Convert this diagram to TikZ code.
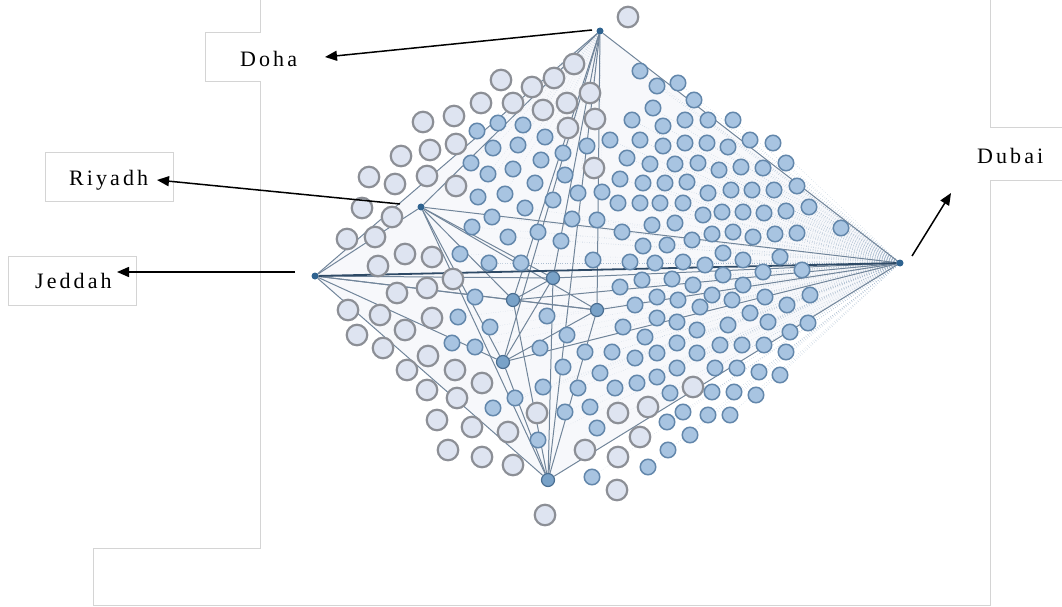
\documentclass[tikz,border=0pt]{standalone}
\usepackage{fontspec}
\newfontfamily\lblfont[LetterSpace=14]{Liberation Serif}
\usetikzlibrary{arrows.meta}
\pgfdeclarelayer{bg}
\pgfsetlayers{bg,main}
\definecolor{framecol}{HTML}{D4D4D4}
\definecolor{lightfill}{HTML}{DEE4F1}
\definecolor{lightdraw}{HTML}{8C8F96}
\definecolor{bluefill}{HTML}{A8C4E1}
\definecolor{bluedraw}{HTML}{6387AB}
\definecolor{hubfill}{HTML}{2F6390}
\definecolor{midfill}{HTML}{79A2C8}
\definecolor{middraw}{HTML}{4A6E91}
\definecolor{edgecol}{HTML}{71859A}
\definecolor{darkedge}{HTML}{2E4A66}
\definecolor{faintcol}{HTML}{9FB4CA}
\definecolor{wash}{HTML}{F7F8FB}
\begin{document}
\begin{tikzpicture}[x=1pt,y=-1pt,
 framel/.style={draw=framecol,line width=1pt},
 outer/.style={circle,draw=lightdraw,fill=lightfill,line width=2.2pt,minimum size=20.5pt,inner sep=0pt},
 inner/.style={circle,draw=bluedraw,fill=bluefill,line width=1.5pt,minimum size=15.5pt,inner sep=0pt},
 hub/.style={circle,fill=hubfill,minimum size=7pt,inner sep=0pt},
 midhub/.style={circle,draw=middraw,fill=midfill,line width=1.2pt,minimum size=13pt,inner sep=0pt},
 link/.style={draw=edgecol,line width=1pt},
 strong/.style={draw=darkedge,line width=1.8pt},
 faint/.style={draw=faintcol,line width=0.4pt,dotted},
 city/.style={font=\lblfont\fontsize{22}{25}\selectfont,anchor=base west,inner sep=0pt},
 arr/.style={draw=black,line width=1.5pt,-{Triangle[length=12pt,width=10pt]}}
]
\useasboundingbox (0,0) rectangle (1062,607);

% frame lines
\draw[framel] (260,0) -- (260,33) -- (205,33) -- (205,82) -- (260,82) -- (260,548) -- (93,548) -- (93,605) -- (990,605) -- (990,180) -- (1062,180);
\draw[framel] (990,0) -- (990,128) -- (1062,128);
\draw[framel] (45,152) rectangle (173,201);
\draw[framel] (8,256) rectangle (136,305);

% labels
\node[city] (dohalbl) at (240,67) {Doha};
\node[city] (riyadhlbl) at (69,185) {Riyadh};
\node[city] (jeddahlbl) at (35,288) {Jeddah};
\node[city] (dubailbl) at (977,163) {Dubai};

% hubs
\node[hub] (doha) at (600,31) {};
\node[hub] (riyadh) at (421,207) {};
\node[hub] (jeddah) at (315,276) {};
\node[hub] (dubai) at (900,263) {};
\node[midhub] (hA) at (513,300) {};
\node[midhub] (hB) at (553,278) {};
\node[midhub] (hC) at (597,310) {};
\node[midhub] (hD) at (503,362) {};
\node[midhub] (hE) at (548,480) {};

% outer ring (light)
\foreach \p [count=\i] in {(628,17),(574,64),(554,78),(532,87),(590,93),(567,103),(543,110),(595,119),(568,128),(594,168),(501,80),(481,103),(513,103),(454,116),(423,122),(456,144),(430,150),(401,156),(427,176),(369,177),(395,184),(456,186),(362,208),(392,217),(347,239),(375,237),(405,254),(432,257),(378,266),(453,279),(397,293),(427,288),(348,310),(380,315),(432,318),(357,335),(405,330),(383,348),(428,356),(407,370),(455,370),(482,383),(427,390),(457,398),(537,413),(618,413),(648,407),(693,387),(437,420),(472,427),(508,432),(640,437),(448,450),(482,457),(513,465),(585,450),(618,457),(617,490),(545,515)}
  \node[outer] (o\i) at \p {};

% top-left blue group
\foreach \p [count=\i] in {(477,131),(498,123),(523,125),(493,148),(518,145),(471,163),(488,174),(513,169),(478,197),(505,194),(545,137),(587,146),(563,153),(541,160),(565,175),(535,183),(602,192),(578,193),(553,200)}
  \node[inner] (bt\i) at \p {};

% right blue group
\foreach \p [count=\i] in {(640,71),(657,86),(678,83),(694,100),(653,108),(632,120),(663,126),(685,120),(708,120),(733,120),
(610,140),(640,140),(663,146),(685,143),(707,143),(728,147),(750,140),(773,143),
(627,158),(650,164),(675,164),(698,163),(719,170),(741,167),(763,168),(786,163),
(620,179),(643,183),(665,183),(687,182),(708,193),(731,190),(752,190),(774,190),(797,186),
(618,203),(640,203),(660,203),(683,203),(703,215),(722,212),(743,212),(764,213),(786,211),(809,207),
(712,234),(733,232),(753,237),(775,234),(797,233),(841,228),(723,253),(743,260),(780,257),(763,272),(802,270),
(723,275),(743,285),(765,297),(787,305),(810,295),(732,300),(712,295),(750,313),(768,322),(790,332),(808,323),(728,325),
(720,345),(742,345),(764,345),(786,352),(715,368),(737,368),(759,372),(780,375),(712,392),(734,392),(756,395),(708,415),(730,415)}
  \node[inner] (br\i) at \p {};

% centre blue group
\foreach \p [count=\i] in {(460,254),(492,217),(472,227),(508,237),(489,263),(475,297),(458,317),(490,327),(452,343),(475,347),
(525,208),(572,219),(597,220),(538,232),(561,241),(622,232),(652,225),(675,223),(692,240),(643,246),(667,245),
(593,260),(630,262),(655,263),(683,262),(705,265),(642,280),(672,279),(693,285),
(620,287),(657,297),(678,300),(700,307),(635,305),(547,316),(657,318),(677,322),(697,330),(623,327),(567,335),(645,337),
(540,348),(585,352),(612,352),(635,358),(657,353),(677,343),(697,353),(563,367),(521,263)}
  \node[inner] (bc\i) at \p {};

% lower blue group
\foreach \p [count=\i] in {(515,398),(543,387),(578,388),(600,373),(615,388),(637,383),(657,377),(677,368),(493,408),(565,412),(590,407),(670,393),(538,440),(597,428),(667,422),(683,412),(690,435),(668,450),(648,467),(592,477)}
  \node[inner] (bl\i) at \p {};

% connectors (behind the circles)
\begin{pgfonlayer}{bg}
  \fill[wash] (doha.center) -- (dubai.center) -- (hE.center) -- (jeddah.center) -- cycle;
  \foreach \i in {1,...,81} \draw[faint] (dubai) -- (br\i);
  \foreach \i in {1,...,50} \draw[faint,opacity=0.6] (dubai) -- (bc\i);
  \foreach \i in {1,...,20} \draw[faint,opacity=0.6] (dubai) -- (bl\i);
  \foreach \i in {1,...,19} \draw[faint,opacity=0.6] (doha) -- (bt\i);
  \foreach \a/\b in {doha/riyadh,doha/jeddah,doha/dubai,doha/hA,doha/hB,doha/hC,doha/hD,doha/hE,
    jeddah/riyadh,jeddah/hE,jeddah/hA,jeddah/hB,jeddah/hC,jeddah/hD,
    riyadh/dubai,riyadh/hA,riyadh/hB,riyadh/hC,riyadh/hD,riyadh/hE,
    dubai/hA,dubai/hB,dubai/hC,dubai/hD,dubai/hE,
    hA/hC,hB/hD,hB/hE,hC/hE,hD/hE,hA/hE,hA/hB,hC/hD}
    \draw[link] (\a) -- (\b);
  \draw[strong] (jeddah) -- (dubai);
\end{pgfonlayer}

% arrows to the city labels
\coordinate (dohaS) at (592,30);
\coordinate (dohaT) at (325,57);
\coordinate (riyS) at (400,204);
\coordinate (riyT) at (157,180);
\coordinate (jedS) at (295,272);
\coordinate (jedT) at (117,272);
\coordinate (dubS) at (912,256);
\coordinate (dubT) at (951,193);
\draw[arr] (dohaS) -- (dohaT);
\draw[arr] (riyS) -- (riyT);
\draw[arr] (jedS) -- (jedT);
\draw[arr] (dubS) -- (dubT);
\end{tikzpicture}
\end{document}
